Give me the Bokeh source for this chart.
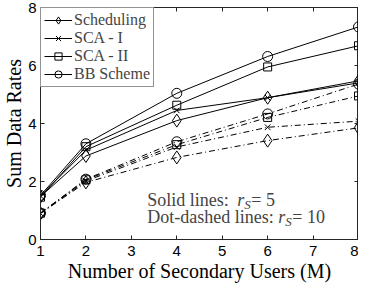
from bokeh.plotting import figure
from bokeh.models import ColumnDataSource, Legend, LegendItem, FixedTicker, LinearAxis, Range1d, Label
from bokeh.embed import file_html
from bokeh.resources import INLINE

# Data
users = [1, 2, 4, 6, 8]
names = ["Scheduling", "SCA - I", "SCA - II", "BB Scheme"]
markers = ["diamond", "x", "square", "circle"]
marker_sizes = [13, 8, 8, 10]

solid_rs5 = {
    "Scheduling": [1.48, 2.88, 4.10, 4.89, 5.47],
    "SCA - I":    [1.50, 3.08, 4.45, 4.89, 5.40],
    "SCA - II":   [1.46, 3.20, 4.63, 5.95, 6.68],
    "BB Scheme":  [1.52, 3.30, 5.04, 6.31, 7.33],
}
dashed_rs10 = {
    "Scheduling": [0.90, 1.97, 2.83, 3.41, 3.85],
    "SCA - I":    [0.90, 2.02, 3.19, 3.87, 4.08],
    "SCA - II":   [0.91, 2.06, 3.27, 4.21, 4.95],
    "BB Scheme":  [0.91, 2.08, 3.37, 4.33, 5.36],
}

x_ticks = [1, 2, 3, 4, 5, 6, 7, 8]
y_ticks = [0, 2, 4, 6, 8]

SERIF = "Liberation Serif"
SANS = "Liberation Sans"
AX = "#262626"

p = figure(width=358, height=284, output_backend="svg", toolbar_location=None,
           x_range=Range1d(1, 8), y_range=Range1d(0, 8),
           min_border_left=0, min_border_right=0, min_border_top=7, min_border_bottom=0)
p.xgrid.visible = False
p.ygrid.visible = False
p.outline_line_color = AX
p.outline_line_width = 1

for ax, ticks in ((p.xaxis[0], x_ticks), (p.yaxis[0], y_ticks)):
    ax.ticker = FixedTicker(ticks=ticks)
    ax.major_tick_in = 4
    ax.major_tick_out = 0
    ax.minor_tick_line_color = None
    ax.axis_line_color = AX
    ax.major_tick_line_color = AX
    ax.major_label_text_font = SANS
    ax.major_label_text_font_size = "15px"
    ax.major_label_text_color = "black"
    ax.axis_label_text_font = SERIF
    ax.axis_label_text_font_style = "normal"
    ax.axis_label_text_font_size = "20px"
    ax.axis_label_text_color = "black"
    ax.axis_label_text_line_height = 0.9

p.xaxis.major_label_standoff = 6
p.xaxis.axis_label_standoff = 1
p.yaxis.major_label_standoff = 4
p.yaxis.axis_label_standoff = 0
p.xaxis.axis_label = "Number of Secondary Users (M)"
p.yaxis.axis_label = "Sum Data Rates"

# top/right ticks (no labels)
for side, ticks in (("above", x_ticks), ("right", y_ticks)):
    a = LinearAxis(ticker=FixedTicker(ticks=ticks), major_tick_in=4, major_tick_out=0,
                   minor_tick_line_color=None, axis_line_color=AX, major_tick_line_color=AX,
                   major_label_overrides={t: "" for t in ticks}, major_label_standoff=0,
                   major_label_text_font_size="1px")
    p.add_layout(a, side)

items = []
for name, mk, ms in zip(names, markers, marker_sizes):
    src1 = ColumnDataSource(dict(x=users, y=solid_rs5[name]))
    src2 = ColumnDataSource(dict(x=users, y=dashed_rs10[name]))
    l1 = p.line("x", "y", source=src1, line_color="black", line_width=1)
    s1 = p.scatter("x", "y", source=src1, marker=mk, size=ms, fill_color=None,
                   line_color="black", line_width=1)
    l2 = p.line("x", "y", source=src2, line_color="black", line_width=1, line_dash="6 3 1 3")
    s2 = p.scatter("x", "y", source=src2, marker=mk, size=ms, fill_color=None,
                   line_color="black", line_width=1)
    items.append(LegendItem(label=name, renderers=[l1, s1]))

legend = Legend(items=items, location="top_left", margin=0, padding=3, spacing=0,
                label_text_font=SERIF, label_text_font_size="16px", label_height=18,
                glyph_width=28, glyph_height=18, label_standoff=2,
                border_line_color=AX, border_line_width=1, background_fill_alpha=1)
p.add_layout(legend)

# annotation text (left-aligned block)
ann_x = 3.35
ann_y1, ann_y2 = 1.35, 0.77
F = "18px"
FS = "13px"
for y, lead, tail, off in ((ann_y1, "Solid lines: ", " = 5", 90),
                           (ann_y2, "Dot-dashed lines: ", " = 10", 131)):
    p.add_layout(Label(x=ann_x, y=y, text=lead, text_font=SERIF,
                       text_font_size=F, text_baseline="middle"))
    p.add_layout(Label(x=ann_x, y=y, x_offset=off, text="r", text_font=SERIF,
                       text_font_style="italic", text_font_size=F, text_baseline="middle"))
    p.add_layout(Label(x=ann_x, y=y, x_offset=off + 7, y_offset=-4, text="S", text_font=SERIF,
                       text_font_style="italic", text_font_size=FS, text_baseline="middle"))
    p.add_layout(Label(x=ann_x, y=y, x_offset=off + 14, text=tail, text_font=SERIF,
                       text_font_size=F, text_baseline="middle"))

open("out.html", "w").write(file_html(p, INLINE))
